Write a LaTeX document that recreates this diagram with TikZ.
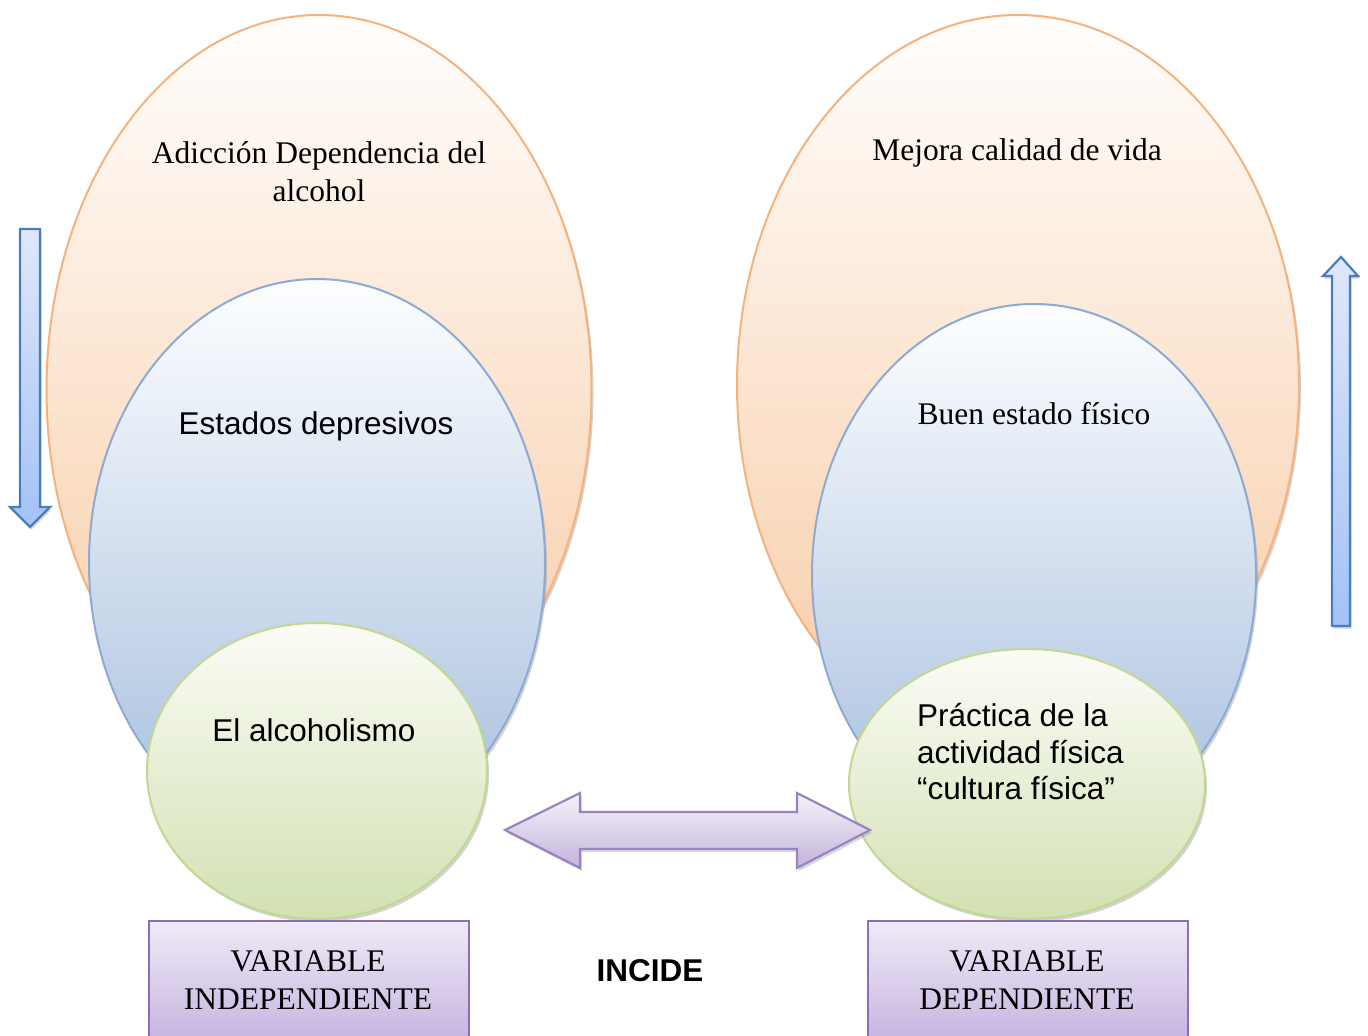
\documentclass[tikz,border=0pt]{standalone}
\usepackage{fontspec}
\setmainfont{Liberation Serif}
\newfontfamily\arialf{Liberation Sans}
\usetikzlibrary{shapes.geometric,shadows}
\definecolor{orbord}{HTML}{F5B27C}
\definecolor{ortop}{HTML}{FFFEFD}
\definecolor{orbot}{HTML}{F8CAA3}
\definecolor{blbord}{HTML}{8DAAD4}
\definecolor{bltop}{HTML}{FDFEFF}
\definecolor{blbot}{HTML}{A5BDDD}
\definecolor{grbord}{HTML}{C2D791}
\definecolor{grtop}{HTML}{FBFCF7}
\definecolor{grbot}{HTML}{D2E1B2}
\definecolor{arbord}{HTML}{4A7EBB}
\definecolor{artop}{HTML}{DFE8FB}
\definecolor{arbot}{HTML}{A4C2F6}
\definecolor{pubord}{HTML}{9A82C4}
\definecolor{putop}{HTML}{F6F3FA}
\definecolor{pubot}{HTML}{C3B3DC}
\definecolor{bxbord}{HTML}{8C6DB6}
\definecolor{bxtop}{HTML}{EFEAF7}
\definecolor{bxbot}{HTML}{C6B4E0}
\tikzset{
  ell/.style={ellipse, inner sep=0pt, line width=2pt,
    drop shadow={shadow xshift=2pt, shadow yshift=-3pt, opacity=0.35}},
  orell/.style={ell, draw=orbord, top color=ortop, bottom color=orbot},
  blell/.style={ell, draw=blbord, top color=bltop, bottom color=blbot},
  grell/.style={ell, draw=grbord, top color=grtop, bottom color=grbot},
  sertxt/.style={font=\fontsize{31.5}{38}\selectfont, align=center, inner sep=0pt},
  arltxt/.style={font=\arialf\fontsize{31.5}{37}\selectfont, align=center, inner sep=0pt},
  varbox/.style={draw=bxbord, line width=2pt, top color=bxtop, bottom color=bxbot,
    minimum width=320pt, minimum height=120pt, inner sep=0pt, anchor=north west},
  vertarrow/.style={draw=arbord, line width=2.2pt, line join=miter, top color=artop, bottom color=arbot,
    drop shadow={shadow xshift=1.5pt, shadow yshift=-2.5pt, opacity=0.35}},
}
\begin{document}
\begin{tikzpicture}[x=1pt,y=-1pt]
\useasboundingbox (0,0) rectangle (1368,1036);
% left group
\node[orell, minimum width=545pt, minimum height=750pt] (lo) at (319,390) {};
\node[blell, minimum width=456pt, minimum height=568pt] (lb) at (317,563) {};
\node[grell, minimum width=340pt, minimum height=296pt] (lg) at (317,771) {};
% right group
\node[orell, minimum width=562pt, minimum height=740pt] (ro) at (1018,385) {};
\node[blell, minimum width=444pt, minimum height=542pt] (rb) at (1034,575) {};
\node[grell, minimum width=356pt, minimum height=270pt] (rg) at (1027,784) {};
% texts
\node[sertxt] (t1) at (319,172) {Adicción Dependencia del\\alcohol};
\node[arltxt] (t2) at (316,426) {Estados depresivos};
\node[arltxt] (t3) at (314,730) {El alcoholismo};
\node[sertxt] (t4) at (1017,153) {Mejora calidad de vida};
\node[sertxt] (t5) at (1034,414) {Buen estado físico};
\node[arltxt, align=left, anchor=west, font=\arialf\fontsize{31.5}{36.5}\selectfont] (t6) at (917,752) {Práctica de la\\actividad física\\“cultura física”};
% vertical arrows
\draw[vertarrow] (20,229) -- (40,229) -- (40,507) -- (50,507) -- (30,527) -- (10,507) -- (20,507) -- cycle;
\draw[vertarrow] (1332,626) -- (1332,276) -- (1323,276) -- (1341,257) -- (1358,276) -- (1350,276) -- (1350,626) -- cycle;
% double arrow
\draw[draw=pubord, line width=2.2pt, line join=miter, top color=putop, bottom color=pubot,
  drop shadow={shadow xshift=2pt, shadow yshift=-3pt, opacity=0.3}]
  (505,830) -- (580,793) -- (580,812) -- (797,812) -- (797,793) -- (870,830)
  -- (797,868) -- (797,849) -- (580,849) -- (580,868) -- cycle;
% boxes
\node[varbox] (vi) at (148,920) {};
\node[sertxt] (vit) at (308,980) {VARIABLE\\INDEPENDIENTE};
\node[varbox] (vd) at (867,920) {};
\node[sertxt] (vdt) at (1027,980) {VARIABLE\\DEPENDIENTE};
\node[font=\arialf\bfseries\fontsize{31.5}{37}\selectfont, inner sep=0pt] (inc) at (650,971) {INCIDE};
\end{tikzpicture}
\end{document}
